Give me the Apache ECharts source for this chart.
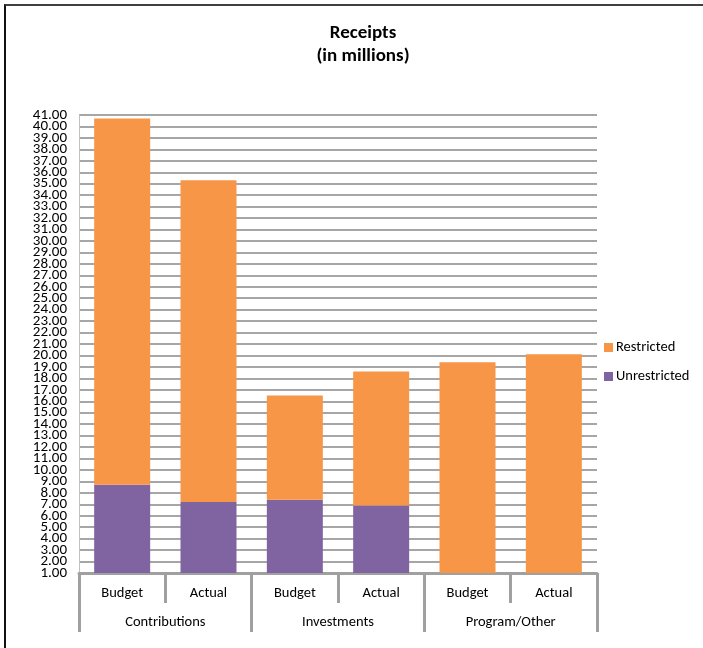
<!DOCTYPE html>
<html><head><meta charset="utf-8">
<script src="https://cdn.jsdelivr.net/npm/echarts@6/dist/echarts.min.js"></script>
<style>
html,body{margin:0;padding:0;background:#fff;}
#frame{position:absolute;left:4px;top:4px;width:699px;height:644px;border-top:2px solid #404040;border-left:2px solid #111;box-sizing:border-box;}
#c{position:absolute;left:0;top:0;width:703px;height:648px;}
</style></head>
<body>
<div id="frame"></div>
<div id="c"></div>
<script>
const subCategories = ['Budget','Actual','Budget','Actual','Budget','Actual'];
const groups = ['Contributions','Investments','Program/Other'];
const unrestricted = [8.7, 7.2, 7.4, 6.9, 0, 0];
const restricted = [32.0, 28.1, 9.1, 11.7, 19.4, 20.1];
const yMin = 1, yMax = 41, yStep = 1;

const FONT = 'Carlito, Lato, "Open Sans", sans-serif';
const labelStyle = {fontSize:15, color:'#000', fontFamily:FONT, margin:12};
const chart = echarts.init(document.getElementById('c'));
chart.setOption({
  animation:false,
  textStyle:{fontFamily:FONT},
  title:{text:'Receipts\n(in millions)', left:358, top:17, textAlign:'center',
    textStyle:{fontFamily:FONT,fontWeight:'bold',fontSize:19,lineHeight:23,color:'#000'}},
  legend:{orient:'vertical', left:604, top:340, padding:0, itemWidth:9, itemHeight:9, itemGap:14,
    icon:'rect', data:['Restricted','Unrestricted'],
    textStyle:{fontFamily:FONT,fontSize:14.5,color:'#000',padding:[0,0,0,-2]}},
  grid:{left:79, right:106, top:115, bottom:75},
  xAxis:[
    {type:'category', data:subCategories, position:'bottom',
     axisLine:{show:true,lineStyle:{color:'#a0a0a0',width:3}},
     axisTick:{show:true,length:30,lineStyle:{color:'#a0a0a0',width:3}},
     axisLabel:{margin:13,fontSize:14.5,color:'#000',fontFamily:FONT}},
    {type:'category', data:groups, position:'bottom',
     axisLine:{show:false},
     axisTick:{show:true,length:59,lineStyle:{color:'#a0a0a0',width:3}},
     axisLabel:{margin:42,fontSize:14.5,color:'#000',fontFamily:FONT}}
  ],
  yAxis:[
    {type:'value', min:yMin, max:yMax, interval:yStep, position:'left',
     axisLine:{show:true,lineStyle:{color:'#c0c0c0',width:1}},
     axisTick:{show:false},
     axisLabel:Object.assign({showMinLabel:true, showMaxLabel:true,
       formatter:v=>(Math.round(v-yMin)%2===0 ? v.toFixed(2) : '')}, labelStyle),
     splitLine:{lineStyle:{color:'#a6a6a6',width:2}}},
    {type:'value', min:yMin, max:yMax, interval:yStep, position:'left', offset:0,
     axisLine:{show:false}, axisTick:{show:false}, splitLine:{show:false},
     axisLabel:Object.assign({showMinLabel:false, showMaxLabel:false,
       formatter:v=>(Math.round(v-yMin)%2===1 ? v.toFixed(2) : '')}, labelStyle)}
  ],
  series:[
    {name:'Unrestricted', type:'bar', stack:'s', data:unrestricted, barWidth:56,
     itemStyle:{color:'#8064A2'}},
    {name:'Restricted', type:'bar', stack:'s', data:restricted, barWidth:56,
     itemStyle:{color:'#F79646'}}
  ]
});
</script>
</body></html>
